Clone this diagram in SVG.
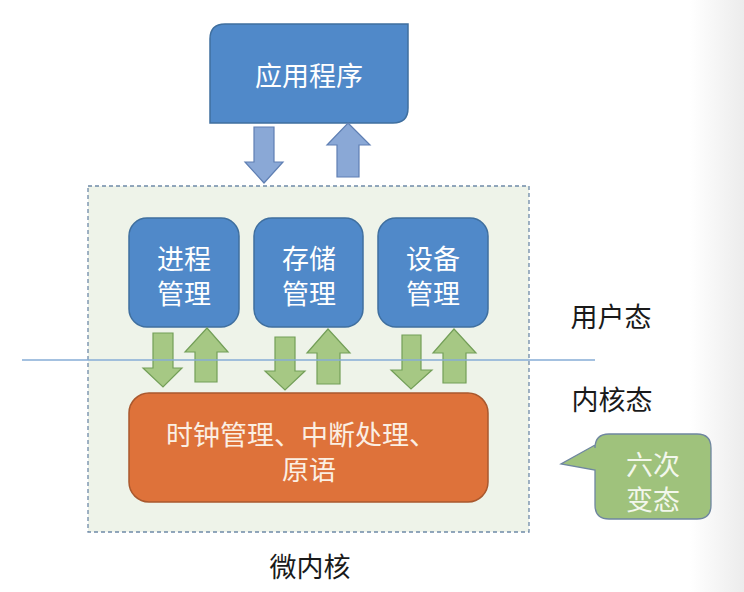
<svg xmlns="http://www.w3.org/2000/svg" width="744" height="592" viewBox="0 0 744 592">
<defs>
<style>
.t{font-family:"Liberation Sans","Noto Sans CJK SC",sans-serif;font-size:27px;text-anchor:middle;dominant-baseline:central}
.w{fill:#ffffff}
.k{fill:#1a1a1a}
.blue{fill:#5089c9;stroke:#3f6f9f;stroke-width:1.5}
.barr{fill:#8aa8d6;stroke:#5f7fb3;stroke-width:1.2}
.garr{fill:#a6c884;stroke:#739f58;stroke-width:1.2}
</style>
<linearGradient id="edge" x1="0" x2="1" y1="0" y2="0">
<stop offset="0" stop-color="#ffffff"/><stop offset="1" stop-color="#ececec"/>
</linearGradient>
</defs>
<rect x="0" y="0" width="744" height="592" fill="#ffffff"/>
<rect x="690" y="0" width="54" height="592" fill="url(#edge)"/>

<g id="kernel-frame">
<rect x="88" y="186" width="441" height="346" fill="#eef3e9" stroke="#6f8aa8" stroke-width="1.3" stroke-dasharray="4,3"/>
<text class="t k" x="310" y="568">微内核</text>
</g>

<g id="app">
<path class="blue" d="M225,24 H408 V108 Q408,123 393,123 H210 V39 Q210,24 225,24 Z"/>
<text class="t w" x="309" y="77">应用程序</text>
</g>

<g id="proc">
<rect class="blue" x="129" y="218" width="110" height="109" rx="18"/>
<text class="t w"><tspan x="184" y="260">进程</tspan><tspan x="184" y="295">管理</tspan></text>
</g>
<g id="mem">
<rect class="blue" x="254" y="218" width="109" height="109" rx="18"/>
<text class="t w"><tspan x="309" y="260">存储</tspan><tspan x="309" y="295">管理</tspan></text>
</g>
<g id="dev">
<rect class="blue" x="378" y="218" width="110" height="109" rx="18"/>
<text class="t w"><tspan x="433" y="260">设备</tspan><tspan x="433" y="295">管理</tspan></text>
</g>

<g id="core">
<rect x="129" y="393" width="359" height="109" rx="20" fill="#de723a" stroke="#a9582e" stroke-width="1.5"/>
<text class="t" fill="#fbefe3"><tspan x="301" y="436">时钟管理、中断处理、</tspan><tspan x="309" y="471">原语</tspan></text>
</g>

<g id="user-mode"><text class="t k" x="611" y="318">用户态</text></g>
<g id="kernel-mode"><text class="t k" x="612" y="401">内核态</text></g>

<g id="callout">
<path d="M609,434 H697 Q711,434 711,448 V505 Q711,519 697,519 H609 Q595,519 595,505 V470 L561,464 L595,445 V448 Q595,434 609,434 Z" fill="#9fc27c" stroke="#6f86a0" stroke-width="1.3"/>
<text class="t" fill="#f3f7ec"><tspan x="653" y="466">六次</tspan><tspan x="653" y="501">变态</tspan></text>
</g>

<g id="connectors">
<polygon class="barr" points="254,127 274,127 274,162 283,162 264,183 245,162 254,162"/>
<polygon class="barr" points="348,123 370,145 359,145 359,177 337,177 337,145 327,145"/>

<polygon class="garr" points="153,333 173,333 173,368 182,368 163,387 143,368 153,368"/>
<polygon class="garr" points="207,328 228,352 217,352 217,382 195,382 195,352 185,352"/>

<polygon class="garr" points="275,337 295,337 295,371 305,371 285,390 265,371 275,371"/>
<polygon class="garr" points="328,329 350,353 340,353 340,384 317,384 317,353 307,353"/>

<polygon class="garr" points="402,335 421,335 421,370 432,370 411,389 391,370 402,370"/>
<polygon class="garr" points="454,329 476,353 466,353 466,383 443,383 443,353 433,353"/>

<line x1="22" y1="360" x2="595" y2="360" stroke="#86acd6" stroke-width="1.6"/>
</g>
</svg>
